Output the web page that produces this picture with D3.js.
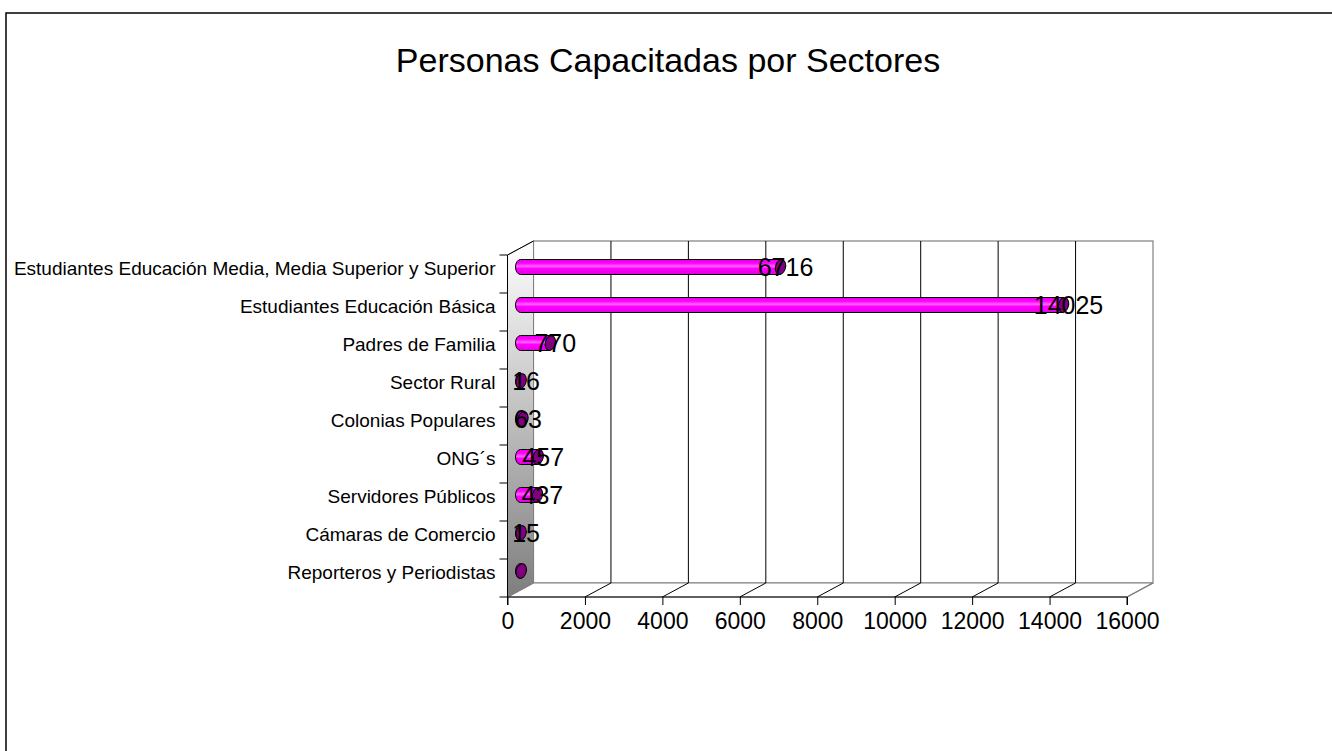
<!DOCTYPE html>
<html>
<head>
<meta charset="utf-8">
<script src="https://cdn.jsdelivr.net/npm/d3@7"></script>
<style>
  body { margin: 0; background: #fff; }
  svg { display: block; font-family: Arial, "Liberation Sans", sans-serif; }
</style>
</head>
<body>
<div id="chart"></div>
<script>
// chart data
const categories = [
    'Estudiantes Educación Media, Media Superior y Superior',
    'Estudiantes Educación Básica',
    'Padres de Familia',
    'Sector Rural',
    'Colonias Populares',
    'ONG´s',
    'Servidores Públicos',
    'Cámaras de Comercio',
    'Reporteros y Periodistas'
];
const values = [6716, 14025, 770, 16, 63, 457, 437, 15, 20];
const valueLabels = ['6716', '14025', '770', '16', '63', '457', '437', '15', ''];
const xTicks = [0, 2000, 4000, 6000, 8000, 10000, 12000, 14000, 16000];
const title = 'Personas Capacitadas por Sectores';

(function() {
    const width = 1332, height = 751;
    const left = 507.5, right = 1127, top = 255, bottom = 597;
    const depthX = 26, depthY = -14;   // 3d depth of the plot box
    const barH = 15, capRx = 5;

    const svg = d3.select('#chart')
        .append('svg')
        .attr('width', width)
        .attr('height', height);

    const defs = svg.append('defs');
    const wallGrad = defs.append('linearGradient')
        .attr('id', 'wallGrad')
        .attr('x1', 0).attr('y1', 0).attr('x2', 0).attr('y2', 1);
    wallGrad.append('stop').attr('offset', '0%').attr('stop-color', '#ffffff');
    wallGrad.append('stop').attr('offset', '100%').attr('stop-color', '#7e7e7e');

    const barGrad = defs.append('linearGradient')
        .attr('id', 'barGrad')
        .attr('x1', 0).attr('y1', 0).attr('x2', 0).attr('y2', 1);
    barGrad.append('stop').attr('offset', '0%').attr('stop-color', '#e600e6');
    barGrad.append('stop').attr('offset', '25%').attr('stop-color', '#ff00ff');
    barGrad.append('stop').attr('offset', '45%').attr('stop-color', '#ff66ff');
    barGrad.append('stop').attr('offset', '60%').attr('stop-color', '#ff00ff');
    barGrad.append('stop').attr('offset', '100%').attr('stop-color', '#e000e0');

    // outer frame
    svg.append('rect')
        .attr('x', 6).attr('y', 13)
        .attr('width', 1400).attr('height', 800)
        .attr('fill', 'none')
        .attr('stroke', '#000')
        .attr('stroke-width', 1.5);

    svg.append('text')
        .attr('x', 668)
        .attr('y', 72)
        .attr('text-anchor', 'middle')
        .attr('font-size', '34px')
        .attr('fill', '#000')
        .text(title);

    const x = d3.scaleLinear()
        .domain([0, 16000])
        .range([left, right]);

    const y = d3.scaleBand()
        .domain(categories)
        .range([top, bottom]);

    // back wall
    svg.append('rect')
        .attr('x', left + depthX)
        .attr('y', top + depthY)
        .attr('width', right - left)
        .attr('height', bottom - top)
        .attr('fill', '#fff')
        .attr('stroke', '#808080')
        .attr('stroke-width', 1.2);

    // floor
    svg.append('path')
        .attr('d', `M${left},${bottom}L${left + depthX},${bottom + depthY}L${right + depthX},${bottom + depthY}L${right},${bottom}Z`)
        .attr('fill', '#fff')
        .attr('stroke', '#808080')
        .attr('stroke-width', 1.2);

    // left wall
    svg.append('path')
        .attr('d', `M${left},${top}L${left + depthX},${top + depthY}L${left + depthX},${bottom + depthY}L${left},${bottom}Z`)
        .attr('fill', 'url(#wallGrad)')
        .attr('stroke', '#808080')
        .attr('stroke-width', 1);

    // grid lines on back wall and floor
    const grid = svg.append('g');
    grid.selectAll('.vgrid')
        .data(xTicks.slice(1, -1))
        .enter()
        .append('path')
        .attr('d', d => `M${x(d) + depthX},${top + depthY}V${bottom + depthY}L${x(d)},${bottom}`)
        .attr('fill', 'none')
        .attr('stroke', '#000')
        .attr('stroke-width', 1);
    grid.append('path')
        .attr('d', `M${right + depthX},${bottom + depthY}L${right},${bottom}`)
        .attr('stroke', '#808080')
        .attr('stroke-width', 1.2);

    // axes
    const xAxis = svg.append('g')
        .attr('transform', `translate(0,${bottom})`)
        .call(d3.axisBottom(x).tickValues(xTicks).tickSize(8).tickPadding(8).tickFormat(d3.format('d')));
    xAxis.select('.domain').attr('stroke', '#000').attr('d', `M${left},8V0H${right}V8`);
    xAxis.selectAll('.tick line').attr('stroke', '#000');
    xAxis.selectAll('.tick text')
        .attr('font-size', '23px')
        .attr('font-family', 'Arial, "Liberation Sans", sans-serif')
        .attr('fill', '#000');

    svg.append('path')
        .attr('d', `M${left},${bottom}V${top}L${left + depthX},${top + depthY}`)
        .attr('fill', 'none')
        .attr('stroke', '#000')
        .attr('stroke-width', 1);

    svg.selectAll('.ytick')
        .data(categories.concat(['end']))
        .enter()
        .append('line')
        .attr('x1', left - 8)
        .attr('x2', left)
        .attr('y1', (d, i) => top + i * y.step())
        .attr('y2', (d, i) => top + i * y.step())
        .attr('stroke', '#000');

    svg.selectAll('.ylabel')
        .data(categories)
        .enter()
        .append('text')
        .attr('x', left - 12)
        .attr('y', d => y(d) + y.bandwidth() / 2 + depthY / 2 + 8)
        .attr('text-anchor', 'end')
        .attr('font-size', '19px')
        .attr('fill', '#000')
        .text(d => d);

    // bars, drawn as cylinders at mid depth
    const bars = svg.selectAll('.bar')
        .data(categories.map((c, i) => ({ cat: c, value: values[i], label: valueLabels[i] })))
        .enter()
        .append('g')
        .attr('class', 'bar');

    const cx0 = x(0) + depthX / 2;
    const cy = d => y(d.cat) + y.bandwidth() / 2 + depthY / 2;
    const x1 = d => x(d.value) + depthX / 2;

    bars.append('path')
        .attr('d', d => {
            const c = cy(d), t = c - barH / 2, b = c + barH / 2;
            const e = Math.max(x1(d), cx0 + 0.5);
            return `M${e},${t}H${cx0}A${capRx},${barH / 2} 0 0 0 ${cx0},${b}H${e}Z`;
        })
        .attr('fill', 'url(#barGrad)')
        .attr('stroke', '#000')
        .attr('stroke-width', 1);

    bars.append('ellipse')
        .attr('cx', d => x1(d))
        .attr('cy', d => cy(d))
        .attr('rx', capRx)
        .attr('ry', barH / 2)
        .attr('transform', d => `rotate(15,${x1(d)},${cy(d)})`)
        .attr('fill', '#800080')
        .attr('stroke', '#000')
        .attr('stroke-width', 1);

    bars.append('text')
        .attr('x', d => x1(d) + 5)
        .attr('y', d => cy(d) + 9)
        .attr('text-anchor', 'middle')
        .attr('font-size', '25px')
        .attr('fill', '#000')
        .text(d => d.label);
})();
</script>
</body>
</html>
